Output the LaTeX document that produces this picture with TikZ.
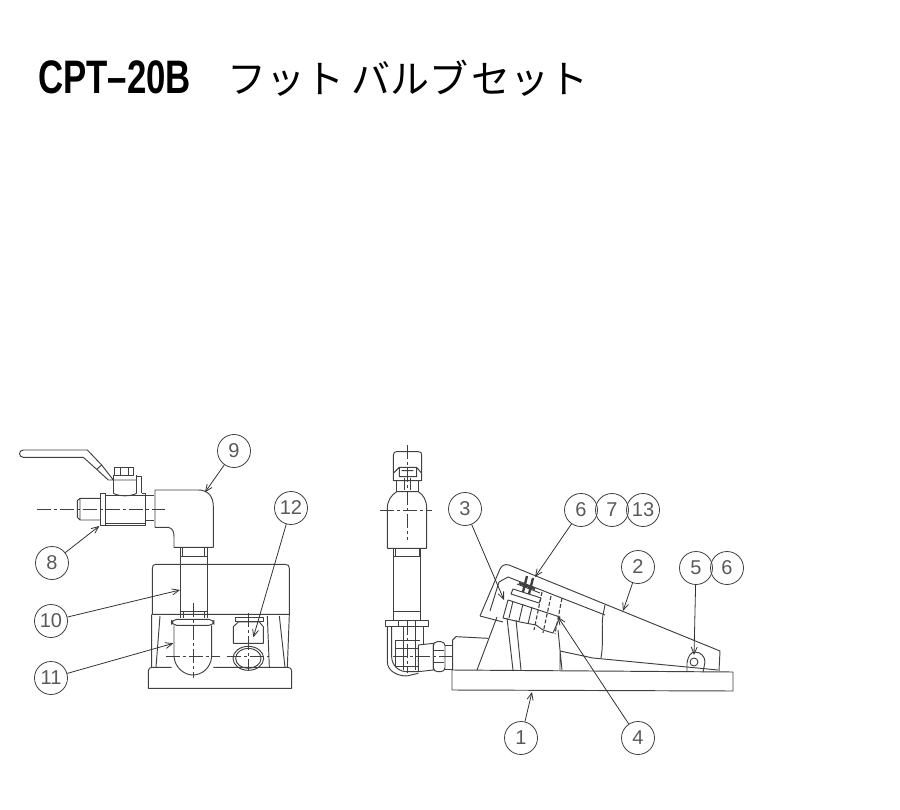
\documentclass[tikz,border=0pt]{standalone}
\usepackage{fontspec}
\usetikzlibrary{arrows.meta}
\setmainfont{Liberation Sans}
\newfontfamily\jpfont{Noto Sans CJK JP}
\tikzset{
	part/.style={line width=0.95pt,draw=black!75,line join=round},
	centre/.style={line width=0.7pt,draw=black!75,dash pattern=on 14pt off 3pt on 3pt off 3pt},
	hidden/.style={line width=1.1pt,draw=black!75,dash pattern=on 4pt off 2pt},
	balloon/.style={circle,draw=black!75,line width=0.8pt,minimum size=33pt,inner sep=0pt,text=black!65,font=\fontsize{20}{20}\selectfont},
	leader/.style={line width=0.8pt,draw=black!80,-{Straight Barb[length=7pt,width=6pt]}},
}
\begin{document}
\begin{tikzpicture}[x=1pt,y=-1pt]
\useasboundingbox (0,0) rectangle (900,810);

\node[anchor=base west,inner sep=0pt] (model) at (38,94) {\fontsize{47}{47}\selectfont\scalebox{0.74}[1]{\bfseries CPT\textendash 20B}};
\node[anchor=base west,inner sep=0pt] (title) at (227,94) {\fontsize{39}{39}\selectfont\jpfont フット\hspace{7pt}バルブ\hspace{3pt}セット};

% front view
\begin{scope}[shift={(0,430)},scale=1/3]
	\coordinate (p9) at (615,187);
	\coordinate (p12) at (760,622);
	\coordinate (p8) at (298,288);
	\coordinate (p10) at (540,480);
	\coordinate (p11) at (520,640);

	\draw[part] (262,60) -- (70,60) .. controls (55,60) and (55,82) .. (70,82) -- (250,82) -- (290,118) -- (305,105) -- (262,60);
	\draw[part] (305,105) -- (340,150) (290,118) -- (325,150) -- (410,150);
	\draw[part] (342,112) rectangle (400,135) (360,112) -- (360,135) (385,112) -- (385,135);
	\draw[part] (340,135) -- (340,190) (410,135) -- (410,190) (410,140) -- (425,140) -- (425,190);
	\draw[part] (340,190) .. controls (360,200) and (390,200) .. (410,190);
	\draw[part] (300,190) rectangle (315,285);
	\draw[part] (315,197) -- (435,197) (315,280) -- (435,280) (425,190) -- (435,190) -- (435,285) -- (315,285);
	\draw[part] (435,197) -- (462,197) (435,272) -- (462,272);
	\draw[part] (300,205) -- (240,205) -- (232,212) -- (232,262) -- (240,270) -- (300,270) (240,205) -- (240,270);
	\draw[centre] (110,237) -- (495,237);

	\draw[part] (465,180) -- (465,292) -- (505,292) .. controls (518,295) and (522,305) .. (522,320) -- (522,352) -- (640,352) -- (640,230) .. controls (640,200) and (625,180) .. (595,180) -- cycle;

	\draw[part] (540,352) -- (540,565) (622,352) -- (622,565) (540,380) -- (622,380) (548,352) -- (548,380) (614,352) -- (614,380);
	\draw[part] (540,545) -- (622,545) (550,545) -- (550,565) (612,545) -- (612,565);
	\draw[part] (457,553) -- (457,415) .. controls (457,407) and (460,403) .. (468,403) -- (855,403) .. controls (864,403) and (868,407) .. (868,415) -- (868,553) -- cycle;
	\draw[part] (480,558) -- (468,712) (455,553) -- (455,712) (838,558) -- (855,712) (868,553) -- (862,712) (802,558) -- (808,712);
	\draw[part] (515,712) -- (458,712) .. controls (450,712) and (445,715) .. (445,722) -- (445,775) -- (875,775) -- (875,722) .. controls (875,715) and (870,712) .. (862,712) -- (640,712);

	\draw[part,rounded corners=5pt] (515,568) rectangle (642,586);
	\draw[part] (522,586) -- (522,680) .. controls (525,715) and (555,735) .. (578,735) .. controls (605,735) and (632,715) .. (635,680) -- (635,586);
	\draw[centre] (580,520) -- (580,745) (497,678) -- (660,678);

	\draw[part] (705,562) rectangle (790,575);
	\draw[part] (700,590) -- (715,576) -- (778,576) -- (790,590) -- (790,640) -- (700,640) -- cycle;
	\draw[part] (745,685) ellipse (46 and 36) (745,685) ellipse (38 and 30);
	\draw[centre] (745,550) -- (745,722) (680,678) -- (808,678);
\end{scope}

% side view, hose side
\begin{scope}[shift={(370,440)},scale=1/3]
	\draw[part] (70,122) -- (70,45) .. controls (70,38) and (75,35) .. (80,35) -- (145,35) .. controls (152,35) and (155,38) .. (155,45) -- (155,122) -- cycle;
	\draw[part] (70,100) -- (88,82) -- (140,82) -- (155,100) (88,82) -- (88,110) -- (140,110) -- (140,82) (95,92) -- (130,92);
	\draw[part] (80,122) -- (80,155) (145,122) -- (145,155) (102,115) -- (102,150) (122,115) -- (122,150);
	\draw[part] (52,325) -- (52,205) .. controls (52,180) and (65,165) .. (80,155) -- (145,155) .. controls (160,165) and (170,180) .. (170,205) -- (170,325) -- cycle;
	\draw[centre] (112,15) -- (112,300) (30,210) -- (185,210);

	\draw[part] (70,325) -- (70,542) (152,325) -- (152,542) (70,350) -- (152,350) (70,515) -- (152,515) (75,325) -- (75,350) (147,325) -- (147,350);
	\draw[part] (45,542) rectangle (175,560) (85,542) -- (85,560) (135,542) -- (135,560);

	\draw[part] (52,560) -- (52,665) .. controls (52,695) and (85,708) .. (110,708) -- (145,700);
	\draw[part] (65,560) -- (65,650) .. controls (65,675) and (85,695) .. (110,695) -- (145,695);
	\draw[part] (160,560) -- (160,615) (75,600) -- (150,600) (75,625) -- (145,625) (75,680) -- (145,680) (75,600) -- (75,680) (100,560) -- (100,690) (135,560) -- (135,690);
	\draw[centre] (70,650) -- (255,650) (112,542) -- (112,700);
	\draw[part] (145,615) -- (190,610) -- (190,690) -- (145,695) -- cycle;
	\draw[part,rounded corners=4pt] (190,605) rectangle (225,695);
	\draw[part] (192,630) -- (223,630) (192,668) -- (223,668) (225,615) -- (250,615) (225,688) -- (250,688);
	\draw[part] (248,690) -- (248,600) -- (258,590) -- (355,595);
\end{scope}

% side view, pedal
\begin{scope}
	\coordinate (p3) at (504,600);
	\coordinate (p6a) at (535,577);
	\coordinate (p4) at (558,617);
	\coordinate (p2) at (623,611);
	\coordinate (p5) at (694,655);
	\coordinate (p1) at (532,692);

	\draw[part] (452,670) -- (733,672) -- (733,691) -- (452,690) -- cycle;

	\draw[part] (480,616) -- (500,569) .. controls (502,565) and (505,564) .. (509,565) -- (720,651) -- (719,671);
	\draw[part] (480,616) -- (503,622);
	\draw[part] (497,617) -- (477,670);
	\draw[part] (499,582) -- (508,577) -- (605,615);
	\draw[part] (499,582) -- (490,611);
	\draw[part] (605,605) -- (603,615) .. controls (601,625) and (604,640) .. (601,658);
	\draw[part] (560,651) -- (593,658) -- (687,667) -- (718,670);

	\draw[part] (503,618) -- (508,600) -- (560,617) -- (553,633) -- (543,630) -- (536,625) -- (520,622) -- cycle;
	\draw[part] (507,618) -- (513,670) (516,620) -- (521,670) (558,630) -- (562,670) (560,650) -- (560,670);
	\draw[part] (513,601) -- (509,618) (523,604) -- (519,621) (532,607) -- (528,624);
	\draw[hidden] (542,592) -- (534,630) (551,596) -- (543,633) (562,598) -- (555,634);

	\draw[part] (513,589) -- (541,598) -- (539,603) -- (511,594) -- cycle;
	\draw[part] (517,584) -- (540,593);
	\draw[line width=2.4pt,draw=black!75] (527,576) -- (523,592) (533,578) -- (529,594) (519,583) -- (535,589);

	\draw[part] (687,672) -- (687,663) .. controls (688,656) and (691,652) .. (695,652) .. controls (701,652) and (705,657) .. (705,662) -- (703,672);
	\draw[part] (694,662) circle (4);
\end{scope}

\node[balloon] (b9) at (234,451) {9};
\node[balloon] (b12) at (291,508) {12};
\node[balloon] (b8) at (52,563) {8};
\node[balloon] (b10) at (51,621) {10};
\node[balloon] (b11) at (51,678) {11};
\node[balloon] (b3) at (465,509) {3};
\node[balloon] (b6a) at (581,510) {6};
\node[balloon] (b7) at (612,510) {7};
\node[balloon] (b13) at (643,510) {13};
\node[balloon] (b2) at (638,567) {2};
\node[balloon] (b5) at (696,568) {5};
\node[balloon] (b6b) at (727,568) {6};
\node[balloon] (b4) at (638,738) {4};
\node[balloon] (b1) at (521,738) {1};

\draw[leader] (b9) -- (p9);
\draw[leader] (b12) -- (p12);
\draw[leader] (b8) -- (p8);
\draw[leader] (b10) -- (p10);
\draw[leader] (b11) -- (p11);
\draw[leader] (b3) -- (p3);
\draw[leader] (b6a) -- (p6a);
\draw[leader] (b2) -- (p2);
\draw[leader] (b4) -- (p4);
\draw[leader] (b5) -- (p5);
\draw[leader] (b1) -- (p1);
\end{tikzpicture}
\end{document}
